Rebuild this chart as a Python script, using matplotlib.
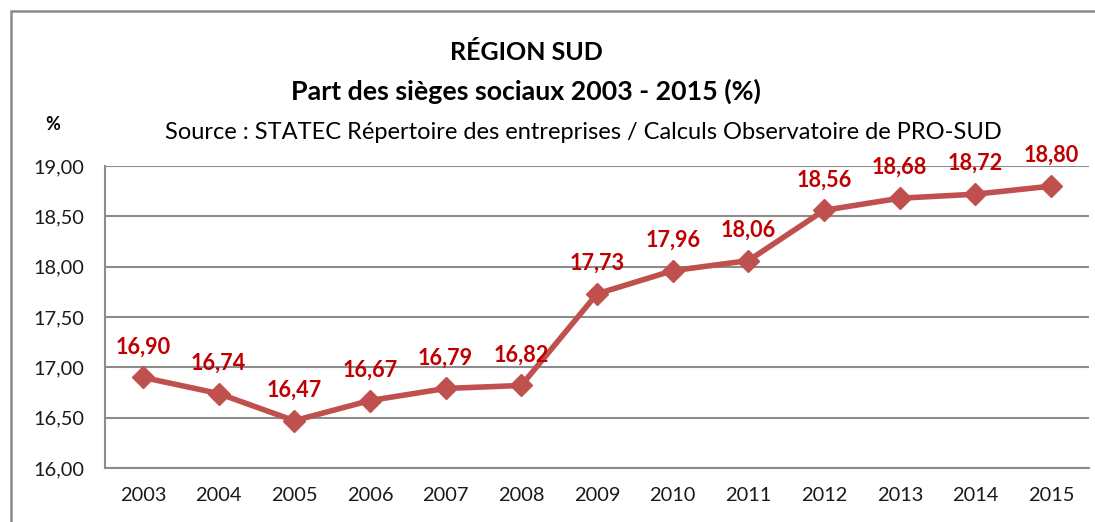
import matplotlib.pyplot as plt
from matplotlib.patches import Rectangle

years = ['2003', '2004', '2005', '2006', '2007', '2008', '2009',
         '2010', '2011', '2012', '2013', '2014', '2015']
part = [16.90, 16.74, 16.47, 16.67, 16.79, 16.82, 17.73,
        17.96, 18.06, 18.56, 18.68, 18.72, 18.80]
yticks = [16.0, 16.5, 17.0, 17.5, 18.0, 18.5, 19.0]

plt.rcParams['font.family'] = ['Lato', 'DejaVu Sans']

fig = plt.figure(figsize=(10.95, 5.22), dpi=100)
ax = fig.add_axes([105 / 1095, 54 / 522, 984 / 1095, 302 / 522])

x = list(range(len(years)))
ax.plot(x, part, color='#C0504D', lw=4, marker='D', ms=11.5,
        mfc='#C0504D', mec='#C0504D', zorder=3)

for xi, v in zip(x, part):
    ax.annotate(f'{v:.2f}'.replace('.', ','), (xi, v), xytext=(0, 22),
                textcoords='offset points', ha='center', va='center',
                color='#C00000', fontsize=15.6, fontweight='bold', zorder=4)

ax.set_xlim(-0.5, len(years) - 0.5)
ax.set_ylim(16.0, 19.0)
ax.set_yticks(yticks)
ax.set_yticklabels([f'{t:.2f}'.replace('.', ',') for t in yticks])
ax.set_xticks(x)
ax.set_xticklabels(years)
ax.tick_params(length=0, labelsize=14.4, colors='#1a1a1a')
ax.tick_params(axis='x', pad=14)
ax.tick_params(axis='y', pad=15)
ax.grid(axis='y', color='#8c8c8c', lw=1.5)
ax.set_axisbelow(True)
for s in ['top', 'right']:
    ax.spines[s].set_visible(False)
for s in ['left', 'bottom']:
    ax.spines[s].set_color('#8c8c8c')
    ax.spines[s].set_linewidth(1.5)

fig.text(526 / 1095, 1 - 52 / 522, 'RÉGION SUD', ha='center', va='center',
         fontsize=18, fontweight='bold')
fig.text(526 / 1095, 1 - 91 / 522, 'Part des sièges sociaux 2003 - 2015 (%)',
         ha='center', va='center', fontsize=19.3, fontweight='bold')
fig.text(53 / 1095, 1 - 125 / 522, '%', ha='center', va='center',
         fontsize=13, fontweight='bold')
fig.text(165 / 1095, 1 - 133 / 522,
         'Source : STATEC Répertoire des entreprises / Calculs Observatoire de PRO-SUD',
         ha='left', va='center', fontsize=17)

fig.patches.append(Rectangle((11 / 1095, -0.1), 1.2, 1.1 - 11 / 522,
                             transform=fig.transFigure, fill=False,
                             edgecolor='#8a8a8a', lw=1.8))

fig.savefig('out.png', dpi=100)
